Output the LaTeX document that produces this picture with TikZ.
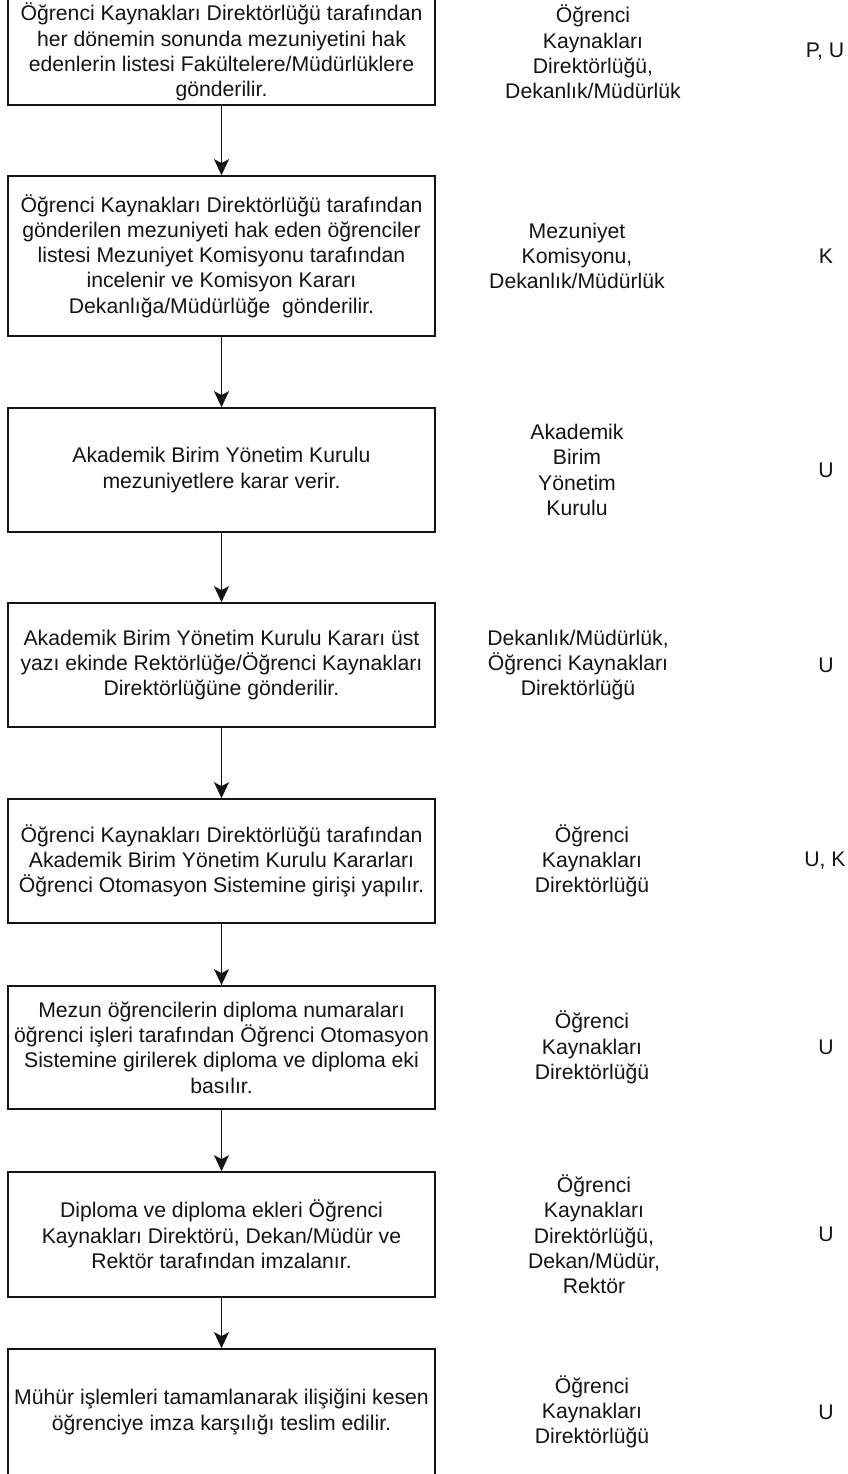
\documentclass[tikz,border=0pt]{standalone}
\usepackage{fontspec}
\setmainfont{Liberation Sans}
\usetikzlibrary{arrows.meta}
\begin{document}
\begin{tikzpicture}[x=1pt,y=-1pt,
  every node/.style={font=\fontsize{21.2}{25.3}\selectfont, text=black!92, align=center, inner sep=0pt},
  stepbox/.style={draw=black!92, line width=1.7pt, minimum width=427pt},
  flow/.style={draw=black!92, line width=1.6pt, -{Stealth[length=16pt,width=15pt,inset=4pt]}},
  who/.style={},
  code/.style={}
]
\useasboundingbox[fill=white] (0,0) rectangle (847,1474);

\node[stepbox, minimum height=106pt] (b1) at (221.5,52) {Öğrenci Kaynakları Direktörlüğü tarafından\\her dönemin sonunda mezuniyetini hak\\edenlerin listesi Fakültelere/Müdürlüklere\\gönderilir.};
\node[stepbox, minimum height=160pt] (b2) at (221.5,256) {Öğrenci Kaynakları Direktörlüğü tarafından\\gönderilen mezuniyeti hak eden öğrenciler\\listesi Mezuniyet Komisyonu tarafından\\incelenir ve Komisyon Kararı\\Dekanlığa/Müdürlüğe\ \ gönderilir.};
\node[stepbox, minimum height=124pt] (b3) at (221.5,470) {Akademik Birim Yönetim Kurulu\\mezuniyetlere karar verir.};
\node[stepbox, minimum height=124pt] (b4) at (221.5,665) {Akademik Birim Yönetim Kurulu Kararı üst\\yazı ekinde Rektörlüğe/Öğrenci Kaynakları\\Direktörlüğüne gönderilir.};
\node[stepbox, minimum height=124pt] (b5) at (221.5,861) {Öğrenci Kaynakları Direktörlüğü tarafından\\Akademik Birim Yönetim Kurulu Kararları\\Öğrenci Otomasyon Sistemine girişi yapılır.};
\node[stepbox, minimum height=123pt] (b6) at (221.5,1047.5) {Mezun öğrencilerin diploma numaraları\\öğrenci işleri tarafından Öğrenci Otomasyon\\Sistemine girilerek diploma ve diploma eki\\basılır.};
\node[stepbox, minimum height=125pt] (b7) at (221.5,1234.5) {Diploma ve diploma ekleri Öğrenci\\Kaynakları Direktörü, Dekan/Müdür ve\\Rektör tarafından imzalanır.};
\node[stepbox, minimum height=126pt] (b8) at (221.5,1412) {Mühür işlemleri tamamlanarak ilişiğini kesen\\öğrenciye imza karşılığı teslim edilir.};

\draw[flow] (b1) -- (b2);
\draw[flow] (b2) -- (b3);
\draw[flow] (b3) -- (b4);
\draw[flow] (b4) -- (b5);
\draw[flow] (b5) -- (b6);
\draw[flow] (b6) -- (b7);
\draw[flow] (b7) -- (b8);

\node[who] (w1) at (593,52) {Öğrenci\\Kaynakları\\Direktörlüğü,\\Dekanlık/Müdürlük};
\node[who] (w2) at (577,256) {Mezuniyet\\Komisyonu,\\Dekanlık/Müdürlük};
\node[who] (w3) at (577,470) {Akademik\\Birim\\Yönetim\\Kurulu};
\node[who] (w4) at (578,665) {Dekanlık/Müdürlük,\\Öğrenci Kaynakları\\Direktörlüğü};
\node[who] (w5) at (592,861) {Öğrenci\\Kaynakları\\Direktörlüğü};
\node[who] (w6) at (592,1047.5) {Öğrenci\\Kaynakları\\Direktörlüğü};
\node[who] (w7) at (594,1234.5) {Öğrenci\\Kaynakları\\Direktörlüğü,\\Dekan/Müdür,\\Rektör};
\node[who] (w8) at (592,1412) {Öğrenci\\Kaynakları\\Direktörlüğü};

\node[code] (c1) at (825,52) {P, U};
\node[code] (c2) at (826,256) {K};
\node[code] (c3) at (826,470) {U};
\node[code] (c4) at (826,665) {U};
\node[code] (c5) at (825,861) {U, K};
\node[code] (c6) at (826,1047.5) {U};
\node[code] (c7) at (826,1234.5) {U};
\node[code] (c8) at (826,1412) {U};
\end{tikzpicture}
\end{document}
